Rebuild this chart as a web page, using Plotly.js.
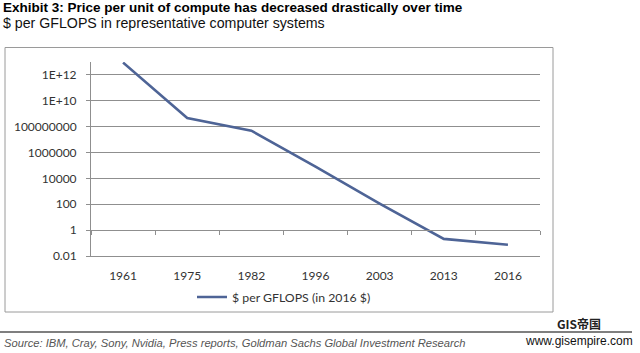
<!DOCTYPE html>
<html>
<head>
<meta charset="utf-8">
<script src="https://cdn.plot.ly/plotly-3.0.1.min.js"></script>
<style>html,body{margin:0;padding:0;background:#fff;}#chart{width:640px;height:353px;}</style>
</head>
<body>
<div id="chart"></div>
<script>
// Data
const years = ["1961", "1975", "1982", "1996", "2003", "2013", "2016"];
const pricePerGflops = [9e12, 4.6e8, 4.9e7, 8e4, 110, 0.21, 0.075];
const seriesName = "$ per GFLOPS (in 2016 $)";
const yTickVals = [0.01, 1, 100, 1e4, 1e6, 1e8, 1e10, 1e12];
const yTickText = ["0.01", "1", "100", "10000", "1000000", "100000000", "1E+10", "1E+12"];

const W = 640, H = 353;
const L = 91, R = 100, T = 62, B = 97;
const pw = W - L - R, ph = H - T - B;
const px = x => (x - L) / pw;          // pixel -> paper x
const py = y => (H - B - y) / ph;      // pixel -> paper y

const grid = "#8f8f8f";
const tickFont = {family: "Lato, 'Open Sans', sans-serif", size: 12, color: "#333"};

const traces = [
  {
    x: years, y: pricePerGflops, type: "scatter", mode: "lines",
    name: seriesName,
    line: {color: "#4e6496", width: 2.6},
    hoverinfo: "skip"
  },
  {
    x: years, y: pricePerGflops, type: "scatter", mode: "lines",
    xaxis: "x2", yaxis: "y", showlegend: false, hoverinfo: "skip",
    line: {color: "rgba(0,0,0,0)", width: 0}
  }
];

const layout = {
  width: W, height: H,
  margin: {l: L, r: R, t: T, b: B, pad: 0},
  paper_bgcolor: "#fff", plot_bgcolor: "#fff",
  showlegend: true,
  legend: {
    orientation: "h", x: px(192), xanchor: "left", y: py(297), yanchor: "middle",
    font: {family: "Lato, 'Open Sans', sans-serif", size: 12.3, color: "#333"},
    bgcolor: "rgba(0,0,0,0)"
  },
  xaxis: {
    type: "category", range: [-0.5, 6.5], fixedrange: true,
    showgrid: false, zeroline: false,
    showline: true, linecolor: grid, linewidth: 1,
    ticks: "", tickfont: tickFont, ticklabelstandoff: 9
  },
  xaxis2: {
    type: "category", range: [-0.5, 6.5], overlaying: "x", anchor: "free",
    position: (0 - (-2)) / 15,
    showgrid: false, zeroline: false, showticklabels: false,
    showline: true, linecolor: grid, linewidth: 1,
    ticks: "outside", tickson: "boundaries", ticklen: 4, tickcolor: grid
  },
  yaxis: {
    type: "log", range: [-2, 13], fixedrange: true,
    tickmode: "array", tickvals: yTickVals, ticktext: yTickText,
    showgrid: true, gridcolor: grid, gridwidth: 1, zeroline: false,
    showline: true, linecolor: grid, linewidth: 1,
    ticks: "outside", ticklen: 4, tickcolor: grid,
    tickfont: tickFont, ticklabelstandoff: 7
  },
  shapes: [
    {type: "rect", xref: "paper", yref: "paper",
     x0: px(5), x1: px(553), y0: py(312), y1: py(47.5),
     line: {color: "#9a9a9a", width: 1}, fillcolor: "rgba(0,0,0,0)", layer: "below"},
    {type: "line", xref: "paper", yref: "paper",
     x0: px(0), x1: px(632), y0: py(332), y1: py(332),
     line: {color: "#000", width: 1.2}}
  ],
  annotations: [
    {text: "<b>Exhibit 3: Price per unit of compute has decreased drastically over time</b>",
     xref: "paper", yref: "paper", x: px(1), y: py(7.5), xanchor: "left", yanchor: "middle",
     showarrow: false, font: {family: "'Liberation Sans', Arial, sans-serif", size: 13.5, color: "#000"}},
    {text: "$ per GFLOPS in representative computer systems",
     xref: "paper", yref: "paper", x: px(1), y: py(22.5), xanchor: "left", yanchor: "middle",
     showarrow: false, font: {family: "'Liberation Sans', Arial, sans-serif", size: 14.2, color: "#111"}},
    {text: "<i>Source: IBM, Cray, Sony, Nvidia, Press reports, Goldman Sachs Global Investment Research</i>",
     xref: "paper", yref: "paper", x: px(2), y: py(343), xanchor: "left", yanchor: "middle",
     showarrow: false, font: {family: "'Liberation Sans', Arial, sans-serif", size: 11.2, color: "#555"}},
    {text: "<b>GIS帝国</b>",
     xref: "paper", yref: "paper", x: px(579), y: py(323), xanchor: "center", yanchor: "middle",
     showarrow: false, font: {family: "'Noto Sans CJK SC', 'Liberation Serif', serif", size: 12, color: "#222"}},
    {text: "www.gisempire.com",
     xref: "paper", yref: "paper", x: px(579), y: py(341), xanchor: "center", yanchor: "middle",
     showarrow: false, font: {family: "'Liberation Sans', Arial, sans-serif", size: 12, color: "#111"}}
  ]
};

Plotly.newPlot("chart", traces, layout, {displayModeBar: false, staticPlot: true});
</script>
</body>
</html>
